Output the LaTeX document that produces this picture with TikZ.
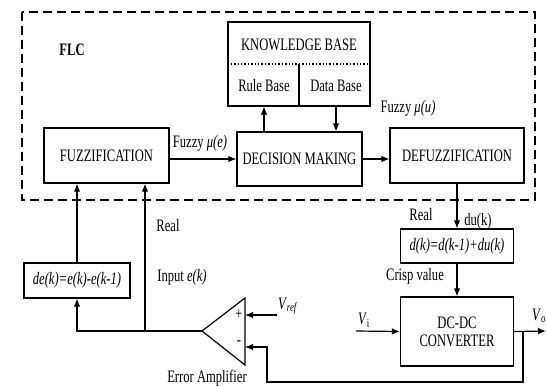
\documentclass[tikz,border=0pt]{standalone}
\usepackage{fontspec}
\setmainfont{Liberation Serif}[FakeStretch=0.72]
\usetikzlibrary{arrows.meta}

\begin{document}
\begin{tikzpicture}[x=1pt, y=-1pt,
    every node/.style={font=\fontsize{17.5}{18}\selectfont},
    blk/.style={draw, line width=1.2pt, inner sep=0pt},
    line/.style={line width=1.2pt},
    arr/.style={line width=1.2pt, -{Latex[length=8pt,width=6.5pt]}},
    frame/.style={line width=2.2pt, dash pattern=on 9pt off 5pt}]
    \useasboundingbox (0,0) rectangle (546,388);

    % FLC frame
    \draw[frame] (22,12) rectangle (535,200);
    \node[font=\bfseries\fontsize{17.5}{18}\selectfont] (flc) at (72,50) {FLC};

    % Blocks
    \node[blk, minimum width=125pt, minimum height=55pt] (fuzz) at (106.5,155.5) {FUZZIFICATION};
    \node[blk, minimum width=125pt, minimum height=54pt] (dec) at (299.5,159) {DECISION MAKING};
    \node[blk, minimum width=134pt, minimum height=55pt] (defuzz) at (457,155.5) {DEFUZZIFICATION};
    \node[blk, minimum width=142pt, minimum height=84pt] (kb) at (299,64) {};
    \node (kbt) at (299,45) {KNOWLEDGE BASE};
    \node (rule) at (264,86) {Rule Base};
    \node (data) at (336,86) {Data Base};
    \draw[dotted, line width=1.4pt] (kb.west) -- (kb.east);
    \draw[line] (kb.center) -- (kb.south);

    \node[blk, minimum width=113pt, minimum height=34pt] (dk) at (457,246) {\textit{d(k)=d(k-1)+du(k)}};
    \node[blk, minimum width=113pt, minimum height=69pt, align=center] (dcdc) at (457,331.5) {DC-DC\\CONVERTER};
    \node[blk, minimum width=106pt, minimum height=35pt] (de) at (77,280.5) {\textit{de(k)=e(k)-e(k-1)}};

    % Error amplifier
    \coordinate (ampout) at (202,331);
    \draw[line] (ampout) -- (245,298) -- (245,365) -- cycle;
    \coordinate (ampp) at (245,315);
    \coordinate (ampm) at (245,347);
    \coordinate (vref) at (277,315);
    \node (plus) at (239,315) {+};
    \node (minus) at (239,343) {-};

    \coordinate (vi) at (356,331);
    \coordinate (vo) at (546,331);
    \coordinate (vojn) at (523,331);
    \coordinate (fbk) at (267,382);
    \coordinate (ejn) at (145,331);

    % Lines
    \draw[arr] (fuzz.east |- dec.west) -- (dec.west);
    \draw[arr] (dec.east) -- (defuzz.west |- dec.east);
    \draw[arr] (rule |- dec.north) -- (rule |- kb.south);
    \draw[arr] (data |- kb.south) -- (data |- dec.north);
    \draw[arr] (defuzz.south) -- (dk.north);
    \draw[arr] (dk.south) -- (dcdc.north);
    \draw[arr] (vi) -- (dcdc.west);
    \draw[arr] (dcdc.east) -- (vo);
    \draw[arr] (vref) -- (ampp);
    \draw[arr] (vojn) -- (vojn |- fbk) -- (fbk) |- (ampm);
    \draw[arr] (ampout) -| (de.south);
    \draw[arr] (ejn) -- (ejn |- fuzz.south);
    \draw[arr] (de.north) -- (de.north |- fuzz.south);

    % Labels
    \node (fe) at (200,143) {Fuzzy \textit{μ(e)}};
    \node (fu) at (408,108) {Fuzzy \textit{μ(u)}};
    \node (real1) at (168,226) {Real};
    \node (input) at (182,277) {Input \textit{e(k)}};
    \node (ampt) at (207,378) {Error Amplifier};
    \node (real2) at (421,215) {Real};
    \node (du) at (478,221) {du(k)};
    \node (crisp) at (415,276) {Crisp value};
    \node (vreft) at (288,306) {\textit{V}\textsubscript{\textit{ref}}};
    \node (vit) at (364,320) {\textit{V}\textsubscript{i}};
    \node (vot) at (539,316) {\textit{V}\textsubscript{\textit{o}}};
\end{tikzpicture}
\end{document}
